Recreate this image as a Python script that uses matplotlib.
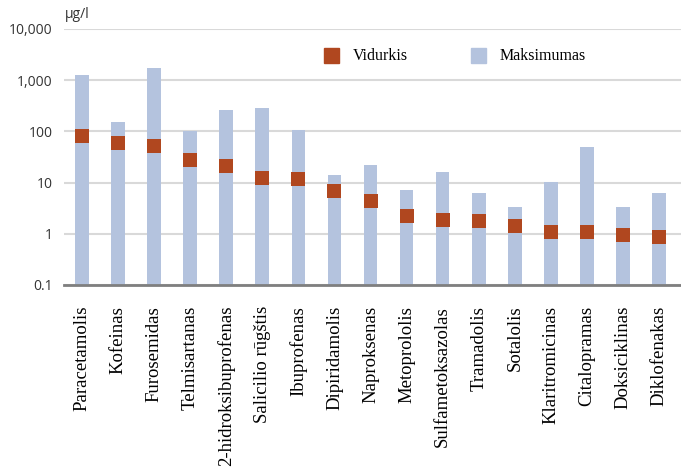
import numpy as np
import matplotlib
matplotlib.use('Agg')
from matplotlib import pyplot as plt
from matplotlib.patches import Rectangle
from matplotlib.ticker import FixedLocator, NullLocator

# vaistų koncentracijos (ug/l)
drugs = ['Paracetamolis', 'Kofeinas', 'Furosemidas', 'Telmisartanas',
         '2-hidroksibuprofenas', 'Salicilio rūgštis', 'Ibuprofenas',
         'Dipiridamolis', 'Naproksenas', 'Metoprololis', 'Sulfametoksazolas',
         'Tramadolis', 'Sotalolis', 'Klaritromicinas', 'Citalopramas',
         'Doksiciklinas', 'Diklofenakas']
max_vals = [1260, 155, 1700, 100, 260, 283, 107, 14, 21.7, 7.2, 16.3,
            6.2, 3.3, 10.4, 50, 3.3, 6.2]
mean_vals = [82, 59, 52.5, 28, 20.8, 12.2, 11.8, 7.0, 4.3, 2.2, 1.86,
             1.78, 1.42, 1.1, 1.1, 0.96, 0.88]
y_ticks = [0.1, 1, 10, 100, 1000, 10000]
y_labels = ['0.1', '1', '10', '100', '1,000', '10,000']

bar_col = '#b4c3de'
mean_col = '#b0471f'
serif = 'Liberation Serif'

fig = plt.figure(figsize=(6.81, 4.72), dpi=100)
ax = fig.add_axes([64/681, 1 - 285/472, 1 - 64/681, (285 - 29)/472])

x = np.arange(len(drugs))
bottom = 0.1
ax.bar(x, np.array(max_vals) - bottom, bottom=bottom, width=0.38,
       color=bar_col, zorder=2)
ax.plot(x, mean_vals, 's', ms=10.3, color=mean_col, mew=0, zorder=3)

ax.set_yscale('log')
ax.set_ylim(0.1, 10000)
ax.set_xlim(-0.5, 16.61)
ax.yaxis.set_major_locator(FixedLocator(y_ticks))
ax.yaxis.set_minor_locator(NullLocator())
ax.set_yticklabels(y_labels, fontfamily='Open Sans', fontsize=10, color='#333333')
ax.tick_params(axis='y', length=0, pad=8)
ax.tick_params(axis='x', length=0, pad=15)
ax.set_xticks(x)
ax.set_xticklabels(drugs, rotation=90, fontfamily=serif, fontsize=13.5)

ax.grid(axis='y', color='#d9d9d9', linewidth=1.5, zorder=0)
for s in ['top', 'right', 'left']:
    ax.spines[s].set_visible(False)
ax.spines['bottom'].set_color('#7f7f7f')
ax.spines['bottom'].set_linewidth(2)
ax.spines['bottom'].set_zorder(4)

fig.text(65/681, 1 - 14/472, 'µg/l', fontfamily='Open Sans', fontsize=10,
         color='#333333', va='center', ha='left')

# legenda
for cx, col, label in [(331, mean_col, 'Vidurkis'), (478.5, bar_col, 'Maksimumas')]:
    fig.add_artist(Rectangle(((cx - 7.5)/681, 1 - 63/472), 15/681, 15/472,
                             transform=fig.transFigure, color=col))
    fig.text((cx + 21.5)/681, 1 - 55.5/472, label, fontfamily=serif,
             fontsize=11.5, va='center', ha='left')

plt.savefig('out.png', dpi=100)
